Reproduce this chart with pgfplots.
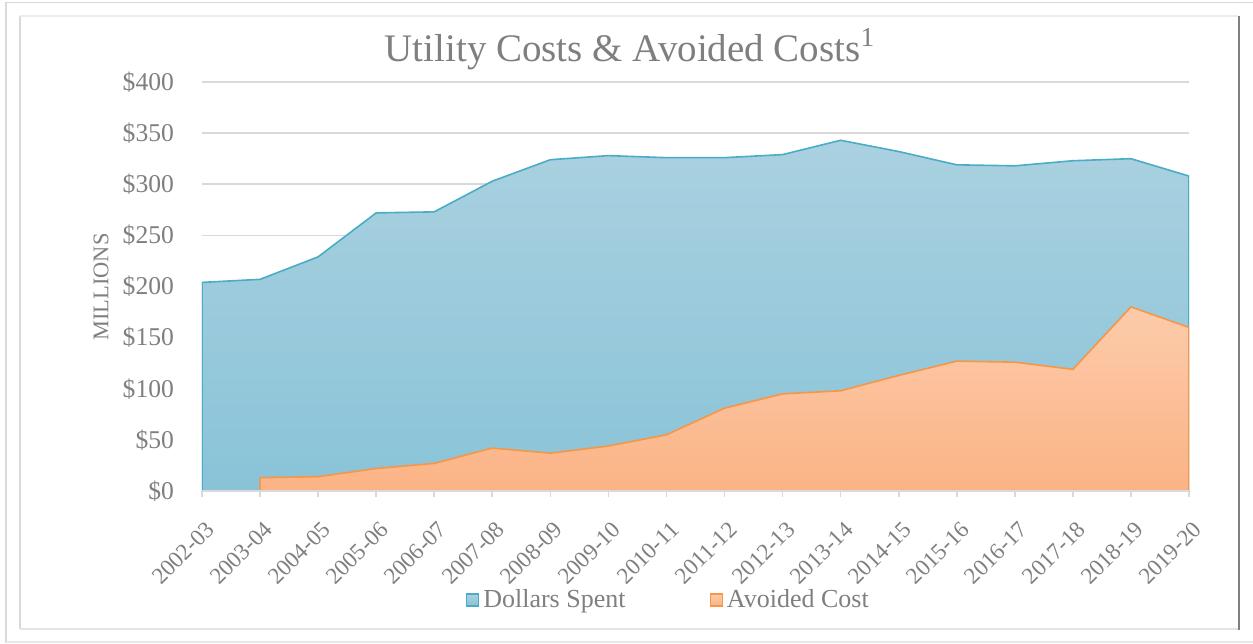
\documentclass[border=0pt]{standalone}
\usepackage{pgfplots}
\pgfplotsset{compat=1.18}
\usepackage{fontspec}
\setmainfont{Liberation Serif}
\definecolor{blueline}{HTML}{4BACC6}
\definecolor{bluetop}{HTML}{AAD1E0}
\definecolor{bluebot}{HTML}{89C3D8}
\definecolor{orangeline}{HTML}{F79646}
\definecolor{orangetop}{HTML}{FCCBAB}
\definecolor{orangebot}{HTML}{FBB385}
\definecolor{gridc}{HTML}{D9D9D9}
\definecolor{txt}{HTML}{7F7F7F}
\newcommand{\px}[2]{({(#1-202)*0.5pt},{(491-#2)*0.5pt})}
\begin{document}
\begin{tikzpicture}
\useasboundingbox \px{0}{643} rectangle \px{1253}{0};
% frames
\draw[gridc, line width=0.8pt] \px{6}{643} -- \px{6}{2.5} -- \px{1253}{2.5};
\draw[gridc!60, line width=0.6pt] \px{6}{642} -- \px{1253}{642};
\draw[gridc, line width=1pt] \px{20}{629} -- \px{20}{16};
\draw[gridc!50, line width=0.8pt] \px{20}{16} -- \px{1238}{16};
\draw[gridc!70, line width=1.4pt] \px{20}{629} -- \px{1238}{629};
\draw[gray, line width=1pt] \px{1238.5}{16} -- \px{1238.5}{630};
\begin{axis}[
  at={(0,0)}, anchor=south west,
  scale only axis,
  width=493.5pt, height=204.5pt,
  xmin=0, xmax=17, ymin=0, ymax=400,
  axis line style={draw=none},
  xtick={0,...,17},
  xticklabels={2002-03,2003-04,2004-05,2005-06,2006-07,2007-08,2008-09,2009-10,2010-11,2011-12,2012-13,2013-14,2014-15,2015-16,2016-17,2017-18,2018-19,2019-20},
  xtick pos=bottom, xtick align=outside,
  major tick length=3pt,
  xtick style={gridc, line width=0.8pt},
  ytick={0,50,...,400},
  yticklabels={\$0,\$50,\$100,\$150,\$200,\$250,\$300,\$350,\$400},
  ytick style={draw=none},
  ymajorgrids, grid style={gridc, line width=0.8pt},
  yticklabel style={font=\fontsize{12.8}{14}\selectfont, text=txt, xshift=-10.5pt},
  xticklabel style={font=\fontsize{11.6}{13}\selectfont, text=txt, rotate=45, anchor=north east, inner sep=1pt, yshift=-8pt, xshift=-6pt},
  ylabel={MILLIONS},
  ylabel style={font=\fontsize{11.2}{13}\selectfont, text=txt, at={(axis description cs:-0.1023,0.499)}, anchor=center},
  legend style={at={(axis description cs:0.4735,-0.2665)}, anchor=center, draw=none, fill=none,
    font=\fontsize{13}{15}\selectfont, text=txt,
    /tikz/every even column/.append style={column sep=40pt}},
  legend columns=2,
  legend cell align=left,
  legend image code/.code={\draw[#1, line width=0.7pt] (0pt,-3pt) rectangle (6pt,3pt);},
]
\addplot[draw=blueline, line width=0.8pt, top color=bluetop, bottom color=bluebot] coordinates {
(0,204) (1,207) (2,229) (3,272) (4,273) (5,303) (6,324) (7,328) (8,326) (9,326) (10,329) (11,343) (12,332) (13,319) (14,318) (15,323) (16,325) (17,308)
} \closedcycle;
\addlegendentry{Dollars Spent}
\addplot[draw=orangeline, line width=0.8pt, top color=orangetop, bottom color=orangebot] coordinates {
(1,13) (2,14) (3,22) (4,27) (5,42) (6,37) (7,44) (8,55) (9,81) (10,95) (11,98) (12,113) (13,127) (14,126) (15,119) (16,180) (17,160)
} \closedcycle;
\addlegendentry{Avoided Cost}
\draw[gridc, line width=1pt] (axis cs:0,0) -- (axis cs:17,0);
\end{axis}
\node[anchor=base, text=txt, font=\fontsize{19.5}{24}\selectfont] at \px{630}{62} {Utility Costs \& Avoided Costs\textsuperscript{1}};
\end{tikzpicture}
\end{document}
